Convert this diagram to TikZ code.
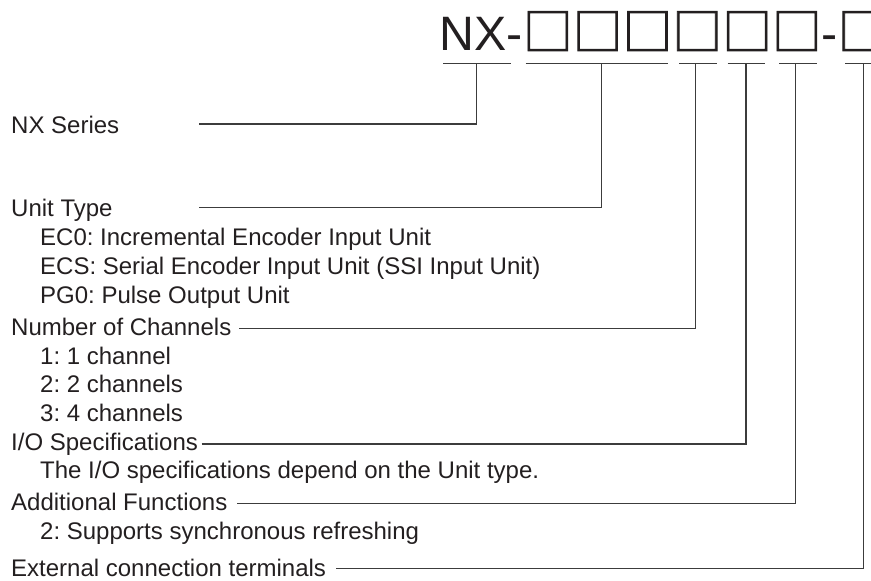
\documentclass[tikz,border=0pt]{standalone}
\usepackage{fontspec}
\setmainfont{Liberation Sans}
\newfontfamily\cjkfont[FakeBold=1.5]{Noto Sans CJK JP}
\definecolor{txt}{HTML}{231F20}
\definecolor{ln}{HTML}{3C3C3C}
\frenchspacing
\begin{document}
\begin{tikzpicture}[x=1pt,y=1pt,
  lbl/.style={inner sep=0pt, anchor=base west, text=txt, font=\fontsize{24}{28}\selectfont},
  conn/.style={draw=ln, line width=1.3pt},
  uline/.style={draw=ln, line width=1.3pt}]
\useasboundingbox (0,0) rectangle (871,-581);
% model number
\node[inner sep=0pt, anchor=base west, text=txt] (title) at (439.6,-50)
  {\fontsize{48.3}{50}\selectfont NX-{\cjkfont\fontsize{49.8}{50}\selectfont □□□□□□}-{\cjkfont\fontsize{49.8}{50}\selectfont □}};
% underlines
\draw[uline] (443.3,-63.3) coordinate (nxL) -- (511,-63.3) coordinate (nxR);
\draw[uline] (525.7,-63.3) coordinate (utL) -- (667.7,-63.3) coordinate (utR);
\draw[uline] (679.3,-63.3) coordinate (ncL) -- (716.7,-63.3) coordinate (ncR);
\draw[uline] (727.7,-63.3) coordinate (ioL) -- (765,-63.3) coordinate (ioR);
\draw[uline] (779.3,-63.3) coordinate (afL) -- (816.7,-63.3) coordinate (afR);
\draw[uline] (845,-63.3) coordinate (exL) -- (880,-63.3) coordinate (exR);
\coordinate (tNX) at (476.7,-63.3);
\coordinate (tUT) at (601.7,-63.3);
\coordinate (tNC) at (695.7,-63.3);
\coordinate (tIO) at (746,-63.3);
\coordinate (tAF) at (795.7,-63.3);
\coordinate (tEX) at (863.3,-63.3);
% labels
\node[lbl] (nx) at (11,-133.3) {NX Series};
\node[lbl] (ut) at (11,-216.7) {Unit Type};
\node[lbl] (ut1) at (40,-245.7) {EC0: Incremental Encoder Input Unit};
\node[lbl] (ut2) at (40,-274) {ECS: Serial Encoder Input Unit (SSI Input Unit)};
\node[lbl] (ut3) at (40,-303) {PG0: Pulse Output Unit};
\node[lbl] (nc) at (11,-335.7) {Number of Channels};
\node[lbl] (nc1) at (40,-364.3) {1: 1 channel};
\node[lbl] (nc2) at (40,-392.5) {2: 2 channels};
\node[lbl] (nc3) at (40,-421) {3: 4 channels};
\node[lbl] (io) at (11,-450) {I/O Specifications};
\node[lbl] (io1) at (40,-478.3) {The I/O specifications depend on the Unit type.};
\node[lbl] (af) at (11,-510.7) {Additional Functions};
\node[lbl] (af1) at (40,-539.3) {2: Supports synchronous refreshing};
\node[lbl] (ex) at (11,-576) {External connection terminals};
% connector starts
\coordinate (sNX) at (199.3,-124);
\coordinate (sUT) at (199.3,-207.5);
\coordinate (sNC) at (239.3,-328.3);
\coordinate (sIO) at (201.7,-444);
\coordinate (sAF) at (237.3,-503.5);
\coordinate (sEX) at (336,-568.3);
% connectors
\draw[conn] (sNX) -| (tNX);
\draw[conn] (sUT) -| (tUT);
\draw[conn] (sNC) -| (tNC);
\draw[conn] (sIO) -| (tIO);
\draw[conn] (sAF) -| (tAF);
\draw[conn] (sEX) -| (tEX);
\end{tikzpicture}
\end{document}
